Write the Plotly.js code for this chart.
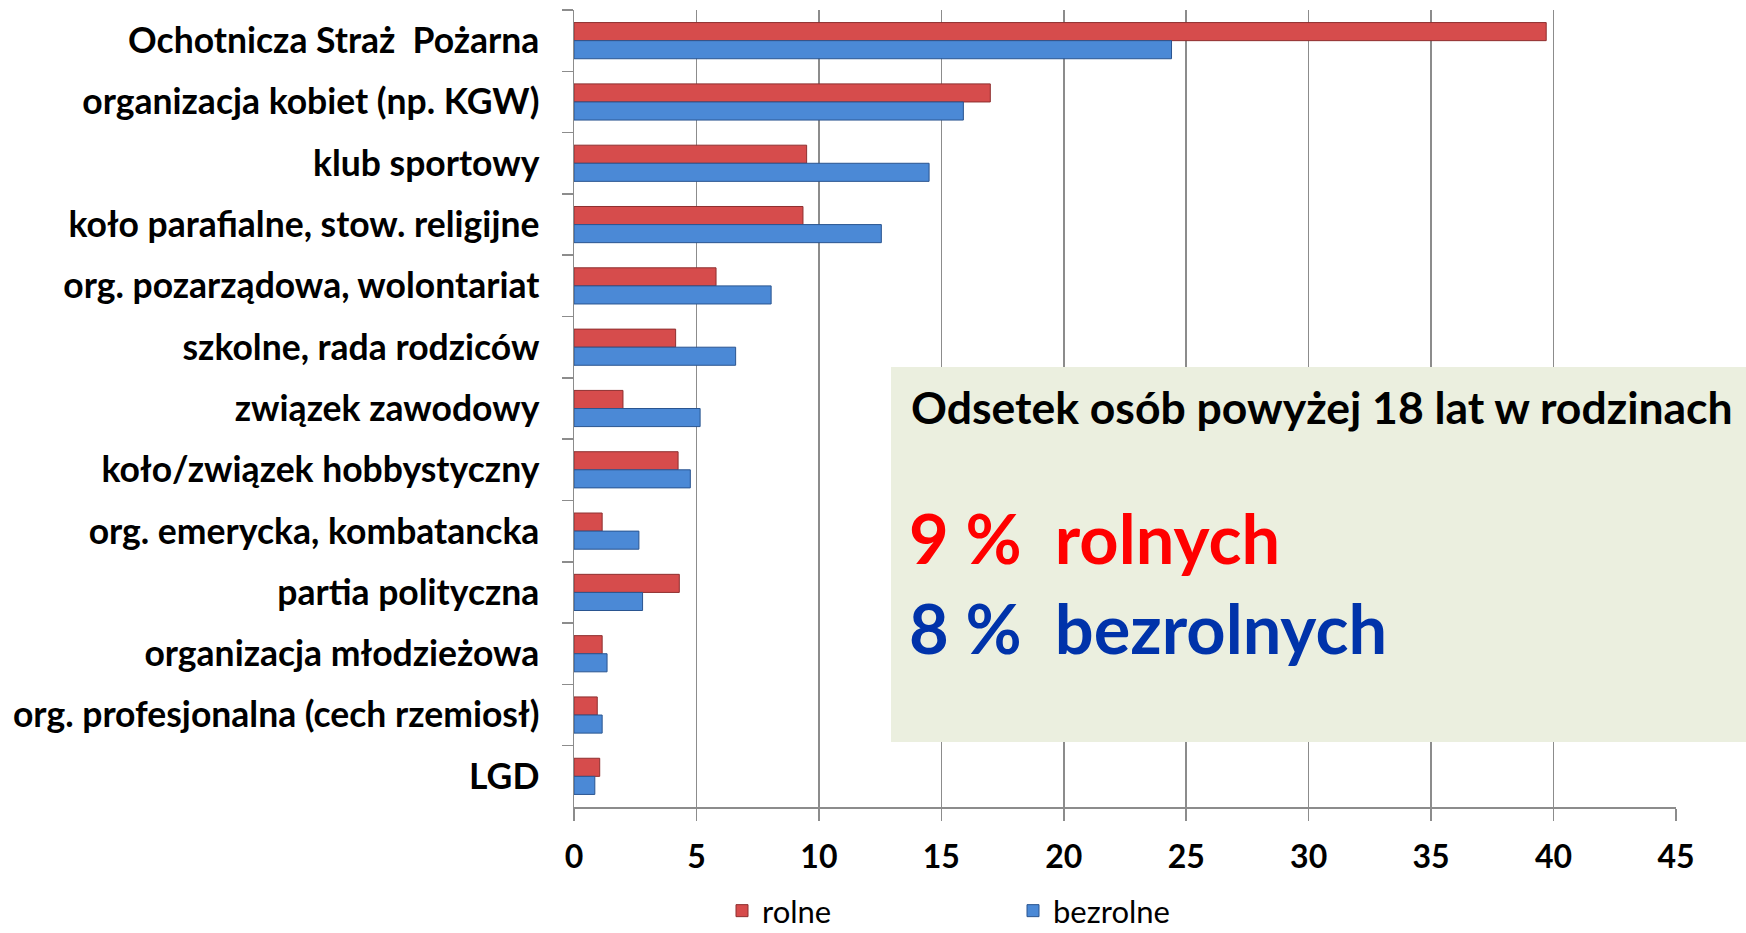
<!DOCTYPE html>
<html>
<head>
<meta charset="utf-8">
<script src="https://cdn.plot.ly/plotly-3.0.1.min.js"></script>
<style>html,body{margin:0;padding:0;background:#fff;}#chart{width:1746px;height:933px;}</style>
</head>
<body>
<div id="chart"></div>
<script>
const categories = [
  "Ochotnicza Straż  Pożarna",
  "organizacja kobiet (np. KGW)",
  "klub sportowy",
  "koło parafialne, stow. religijne",
  "org. pozarządowa, wolontariat",
  "szkolne, rada rodziców",
  "związek zawodowy",
  "koło/związek hobbystyczny",
  "org. emerycka, kombatancka",
  "partia polityczna",
  "organizacja młodzieżowa",
  "org. profesjonalna (cech rzemiosł)",
  "LGD"
];
const rolne    = [39.7, 17.0, 9.5, 9.35, 5.8, 4.15, 2.0, 4.25, 1.15, 4.3, 1.15, 0.95, 1.05];
const bezrolne = [24.4, 15.9, 14.5, 12.55, 8.05, 6.6, 5.15, 4.75, 2.65, 2.8, 1.35, 1.15, 0.85];
const seriesNames = ["rolne", "bezrolne"];
const xTicks = [0, 5, 10, 15, 20, 25, 30, 35, 40, 45];
const boxTitle = "Odsetek osób powyżej 18 lat w rodzinach";
const boxLine1 = "9 %  rolnych";
const boxLine2 = "8 %  bezrolnych";

const FONT = "Lato, 'Open Sans', sans-serif";
const W = 1746, H = 933;
const M = {l: 574, r: 70, t: 10, b: 126, autoexpand: false};
const pw = W - M.l - M.r, ph = H - M.t - M.b;
const px = x => (x - M.l) / pw;
const py = y => (H - M.b - y) / ph;

const traces = [
  {
    type: "bar", orientation: "h", name: seriesNames[0],
    y: categories, x: rolne,
    marker: {color: "#D64C4C", line: {color: "#8E2F2F", width: 1}},
    hoverinfo: "x+y"
  },
  {
    type: "bar", orientation: "h", name: seriesNames[1],
    y: categories, x: bezrolne,
    marker: {color: "#4B89D6", line: {color: "#2A5590", width: 1}},
    hoverinfo: "x+y"
  }
];

const layout = {
  width: W, height: H,
  margin: M,
  paper_bgcolor: "#ffffff",
  plot_bgcolor: "#ffffff",
  barmode: "group",
  bargap: 0.41,
  bargroupgap: 0,
  font: {family: FONT, color: "#000"},
  xaxis: {
    range: [0, 45],
    tickvals: xTicks,
    ticktext: xTicks.map(String),
    showgrid: true, gridcolor: "#8C8C8C", gridwidth: 1.5,
    zeroline: false,
    showline: true, linecolor: "#8C8C8C", linewidth: 1.5,
    ticks: "outside", ticklen: 12, tickcolor: "#8C8C8C", tickwidth: 1.5,
    ticklabelstandoff: 9,
    automargin: false,
    tickfont: {family: FONT, size: 32, color: "#000", weight: 700}
  },
  yaxis: {
    type: "category",
    categoryorder: "array", categoryarray: categories,
    autorange: "reversed",
    showgrid: false, zeroline: false,
    showline: true, linecolor: "#8C8C8C", linewidth: 1.5,
    ticks: "outside", tickson: "boundaries", ticklen: 11, tickcolor: "#8C8C8C", tickwidth: 1.5,
    ticklabelstandoff: 26,
    automargin: false,
    tickfont: {family: FONT, size: 35.5, color: "#000", weight: 700}
  },
  legend: {
    orientation: "h",
    x: px(722), xanchor: "left",
    y: py(911), yanchor: "middle",
    font: {family: FONT, size: 31, color: "#000"},
    entrywidth: 246,
    traceorder: "normal",
    bgcolor: "rgba(0,0,0,0)"
  },
  shapes: [
    {
      type: "rect", xref: "paper", yref: "paper",
      x0: px(891), x1: px(1760), y0: py(742), y1: py(367),
      fillcolor: "#EBEFDF", line: {width: 0}, layer: "above"
    }
  ],
  annotations: [
    {
      xref: "paper", yref: "paper", x: px(909), y: py(407),
      xanchor: "left", yanchor: "middle", showarrow: false,
      text: boxTitle,
      font: {family: FONT, size: 44.5, color: "#000", weight: 700}
    },
    {
      xref: "paper", yref: "paper", x: px(907), y: py(537),
      xanchor: "left", yanchor: "middle", showarrow: false,
      text: boxLine1,
      font: {family: FONT, size: 68.5, color: "#FF0000", weight: 700}
    },
    {
      xref: "paper", yref: "paper", x: px(907), y: py(627),
      xanchor: "left", yanchor: "middle", showarrow: false,
      text: boxLine2,
      font: {family: FONT, size: 68.5, color: "#0033AA", weight: 700}
    }
  ]
};

Plotly.newPlot("chart", traces, layout, {displayModeBar: false, staticPlot: true});
</script>
</body>
</html>
